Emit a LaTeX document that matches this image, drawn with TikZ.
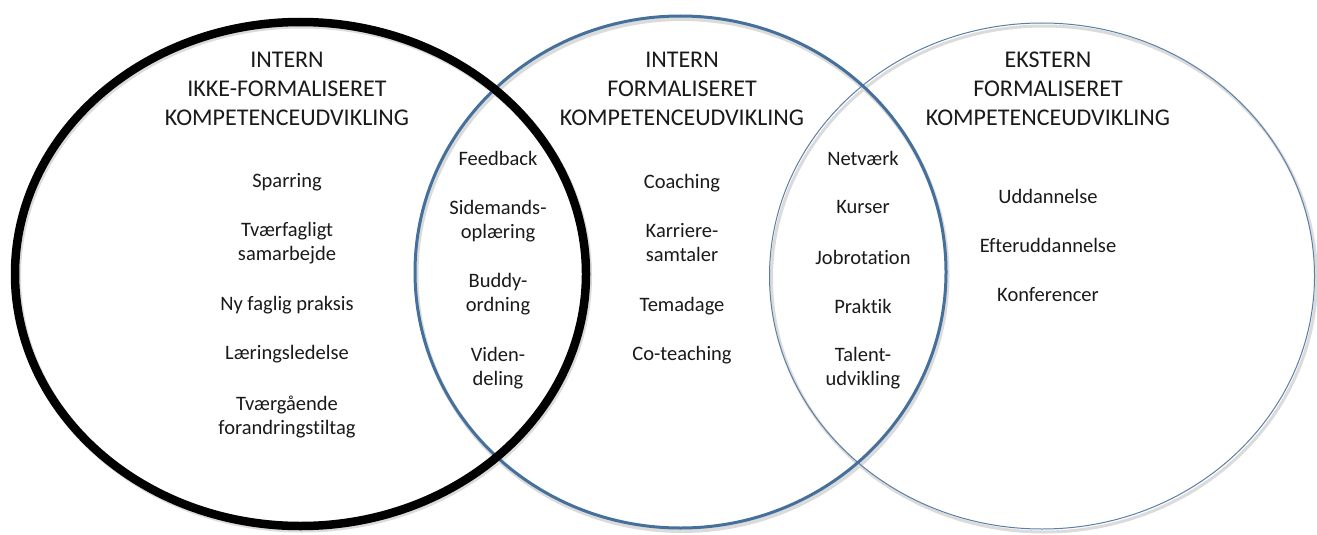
\documentclass[tikz,border=0pt]{standalone}
\usepackage{fontspec}
\setmainfont{Carlito}[Ligatures=NoCommon]
\usetikzlibrary{shapes.geometric}
\definecolor{ringblue}{HTML}{44709B}
\definecolor{thinblue}{HTML}{5B7FA6}
\definecolor{inktext}{HTML}{1A1A1A}
\begin{document}
\begin{tikzpicture}[x=1pt,y=-1pt,
  ring/.style={ellipse,inner sep=0pt,outer sep=0pt},
  shade/.style={ring,draw=black!14},
  title/.style={align=center,text=inktext,font=\fontsize{24}{29}\selectfont,inner sep=0pt},
  item/.style={align=center,text=inktext,font=\fontsize{20.5}{24}\selectfont,inner sep=0pt}]
\useasboundingbox[fill=white] (0,0) rectangle (1317,535);

% soft shadows under the rings
\node[shade,line width=3pt,minimum width=545pt,minimum height=506pt] at (1044,279) {};
\node[shade,line width=4pt,minimum width=531pt,minimum height=512pt] at (682,275) {};
\node[shade,line width=9pt,minimum width=571pt,minimum height=504pt] at (302,276) {};

% the three rings, back to front
\node[ring,draw=thinblue,line width=1pt,minimum width=545pt,minimum height=506pt] (ext) at (1042,276) {};
\node[ring,draw=ringblue,line width=3pt,minimum width=531pt,minimum height=512pt] (intf) at (680.5,272) {};
\node[ring,draw=black,line width=8.5pt,minimum width=571pt,minimum height=504pt] (intu) at (300.5,274) {};

% headings
\node[title] (t1) at (287,89) {INTERN\\IKKE-FORMALISERET\\KOMPETENCEUDVIKLING};
\node[title] (t2) at (682,89) {INTERN\\FORMALISERET\\KOMPETENCEUDVIKLING};
\node[title] (t3) at (1048,89) {EKSTERN\\FORMALISERET\\KOMPETENCEUDVIKLING};

% internal, not formalised
\node[item] (a1) at (287,182) {Sparring};
\node[item] (a2) at (287,243) {Tværfagligt\\samarbejde};
\node[item] (a3) at (287,305) {Ny faglig praksis};
\node[item] (a4) at (287,354) {Læringsledelse};
\node[item] (a5) at (287,417) {Tværgående\\forandringstiltag};

% overlap of the two internal rings
\node[item] (b1) at (498,158) {Feedback};
\node[item] (b2) at (498,221) {Sidemands-\\oplæring};
\node[item] (b3) at (498,294) {Buddy-\\ordning};
\node[item] (b4) at (498,368) {Viden-\\deling};

% internal, formalised
\node[item] (c1) at (682,183) {Coaching};
\node[item] (c2) at (682,243) {Karriere-\\samtaler};
\node[item] (c3) at (682,306) {Temadage};
\node[item] (c4) at (682,355) {Co-teaching};

% overlap of the formalised rings
\node[item] (d1) at (863,158) {Netværk};
\node[item] (d2) at (863,207) {Kurser};
\node[item] (d3) at (863,257) {Jobrotation};
\node[item] (d4) at (863,306) {Praktik};
\node[item] (d5) at (863,368) {Talent-\\udvikling};

% external, formalised
\node[item] (e1) at (1048,196) {Uddannelse};
\node[item] (e2) at (1048,245) {Efteruddannelse};
\node[item] (e3) at (1048,295) {Konferencer};
\end{tikzpicture}
\end{document}
